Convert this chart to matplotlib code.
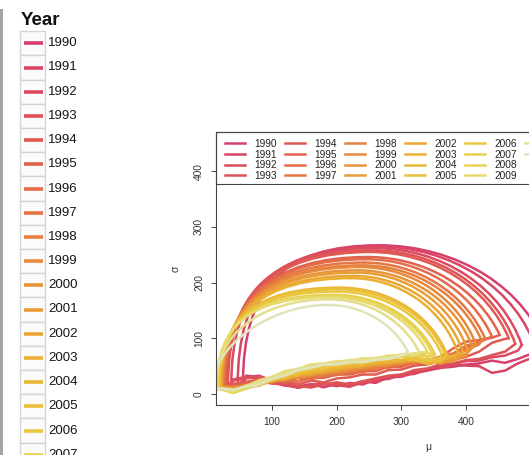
import matplotlib

matplotlib.use("Agg")
import math

import matplotlib.pyplot as plt
from matplotlib.lines import Line2D
from matplotlib.patches import Arc, PathPatch, Rectangle
from matplotlib.path import Path

plt.rcParams["font.family"] = ["Liberation Sans", "DejaVu Sans"]

# ---- data ----------------------------------------------------------------
YEARS = list(range(1990, 2012))
COLORS = [
    "#D6406C", "#D94565", "#DB4B5F", "#DE5258", "#E05A52", "#E2634D",
    "#E46C48", "#E57644", "#E68040", "#E8893C", "#E99339", "#EA9D36",
    "#EAA634", "#EBAF34", "#EBB836", "#EBC03A", "#EAC741", "#E9CE4B",
    "#E8D459", "#E7DA6B", "#E4DE8E", "#E0E4BC",
]

# each year: arc from the left foot up to a peak and down to a right end,
# then a noisy line back along the bottom to the foot
FOOT_MU = [55, 47, 37, 32, 29, 27, 26, 25, 24, 23, 22, 21, 20, 20, 19, 18, 17, 16, 15, 14, 11, 8]
FOOT_SIGMA = [16, 16, 15, 15, 15, 14, 14, 14, 13, 13, 13, 12, 12, 12, 12, 11, 11, 11, 10, 10, 10, 12]
PEAK_MU = [265, 262, 258, 255, 252, 248, 245, 242, 240, 236, 233, 230, 226, 222, 205, 202, 200, 196, 193, 190, 188, 186]
PEAK_SIGMA = [267, 265, 262, 258, 255, 246, 242, 236, 231, 228, 222, 218, 212, 208, 191, 188, 184, 178, 176, 174, 170, 160]
END_MU = [525, 508, 486, 476, 466, 452, 440, 430, 424, 415, 410, 402, 395, 388, 372, 368, 362, 352, 348, 340, 328, 310]
END_SIGMA = [75, 80, 88, 90, 100, 106, 103, 98, 96, 90, 84, 80, 76, 72, 66, 70, 72, 70, 72, 76, 74, 76]
LEFT_FULLNESS = [0.7] * 4 + [0.67] * 10 + [0.7] * 6 + [0.6, 0.5]

GRID_MU = [20, 40, 60, 80, 100, 120, 140, 160, 180, 200, 220, 240, 260,
           280, 300, 320, 340, 360, 380, 400, 420, 440, 460, 480, 500, 520]
N = None
BOTTOM_SIGMA = {
    1990: [N, N, 33, 30, 22, 15, 13, 18, 12, 19, 15, 23, 20, 30, 31, 38, 42, 47, 49, 53, 55, 60, 56, 63, 72, 76],
    1991: [N, N, 30, 33, 24, 19, 16, 12, 18, 14, 20, 17, 26, 27, 35, 36, 44, 47, 52, 51, 50, 38, 42, 55, 64],
    1992: [N, 26, 31, 27, 19, 17, 11, 16, 20, 16, 13, 21, 23, 31, 32, 41, 44, 51, 53, 59, 60, 66, 69, 78],
    1993: [N, 24, 28, 31, 23, 19, 14, 12, 17, 21, 17, 23, 28, 33, 35, 43, 46, 53, 55, 61, 63, 70, 76],
    1994: [N, 18, 22, 26, 20, 23, 17, 24, 21, 28, 30, 35, 35, 43, 44, 51, 53, 59, 61, 67, 76, 92, 99],
    1995: [N, 15, 19, 22, 19, 26, 22, 29, 29, 35, 35, 41, 41, 49, 49, 56, 57, 66, 82, 94, 97, 101],
    1996: [N, 14, 16, 21, 24, 21, 29, 26, 33, 34, 39, 39, 47, 47, 53, 55, 61, 61, 71, 83, 94],
    1997: [N, 12, 16, 18, 23, 26, 23, 31, 32, 37, 39, 45, 45, 51, 53, 59, 61, 67, 73, 87, 93],
    1998: [N, 12, 14, 21, 23, 29, 29, 35, 35, 39, 41, 46, 47, 51, 54, 59, 61, 65, 69, 79, 89],
    1999: [N, 10, 15, 17, 23, 25, 31, 33, 39, 39, 45, 45, 51, 51, 57, 57, 61, 55, 63, 73],
    2000: [N, 11, 16, 21, 23, 29, 31, 36, 37, 43, 44, 49, 51, 56, 57, 61, 57, 56, 59, 71],
    2001: [N, 9, 14, 17, 23, 27, 33, 35, 41, 41, 47, 49, 53, 54, 59, 61, 61, 55, 63, 69],
    2002: [N, 8, 12, 19, 23, 31, 33, 39, 39, 45, 47, 51, 53, 57, 57, 63, 57, 63, 65],
    2003: [N, 8, 13, 15, 25, 27, 35, 37, 43, 45, 49, 51, 56, 57, 61, 61, 61, 63, 69],
    2004: [N, 5, 10, 17, 23, 31, 35, 41, 44, 49, 51, 56, 57, 61, 61, 61, 54, 59],
    2005: [N, 3, 12, 17, 27, 31, 39, 43, 49, 51, 56, 57, 61, 63, 67, 61, 59, 59],
    2006: [N, 2, 10, 21, 27, 35, 39, 47, 49, 55, 55, 61, 61, 66, 67, 67, 61, 65],
    2007: [N, 6, 12, 23, 29, 37, 41, 49, 51, 56, 57, 61, 63, 67, 67, 71, 67],
    2008: [N, 2, 11, 19, 29, 35, 45, 49, 55, 55, 61, 61, 65, 67, 71, 69, 73],
    2009: [N, 5, 14, 25, 31, 41, 45, 53, 55, 59, 59, 64, 64, 69, 69, 73, 73],
    2010: [8, 6, 15, 21, 31, 37, 45, 49, 55, 57, 61, 61, 65, 65, 71, 71],
    2011: [10, 8, 13, 17, 27, 33, 43, 47, 53, 53, 57, 57, 61, 63, 69],
}

X_TICKS = [100, 200, 300, 400]
Y_TICKS = [0, 100, 200, 300, 400]
LEFT_LEGEND_YEARS = YEARS[:18]  # 1990..2007 visible in the cropped side legend

# ---- figure ---------------------------------------------------------------
W, H = 529, 455
fig = plt.figure(figsize=(W / 100, H / 100), dpi=100)

# side legend (ggplot-like), laid out in pixel units
lax = fig.add_axes([0, 0, 1, 1])
lax.set_xlim(0, W)
lax.set_ylim(H, 0)
lax.axis("off")
lax.add_patch(Rectangle((0, 9), 2.5, H, facecolor="#a4a4a4", edgecolor="none"))
lax.text(21, 25, "Year", fontsize=13.5, fontweight="bold", color="#111111", va="baseline")
pitch = 24.2
for i, yr in enumerate(LEFT_LEGEND_YEARS):
    cy = 43.3 + i * pitch
    lax.add_patch(Rectangle((20, cy - pitch / 2), 25, pitch, facecolor="#fbfbfb",
                            edgecolor="#d4d4d4", linewidth=1.0))
    lax.plot([23.5, 42.5], [cy, cy], color=COLORS[i], lw=2.6, solid_capstyle="butt")
    lax.text(48, cy, str(yr), fontsize=9.5, color="#151515", va="center", ha="left")

# main plot: axes runs off the right edge, as in the cropped screenshot
ax = fig.add_axes([216 / W, 50 / H, 424 / W, 273 / H])
ax.set_xlim(13.4, 668.7)
ax.set_ylim(-19.7, 470.4)

LW = 1.8
for i, yr in enumerate(YEARS):
    fm, fs = FOOT_MU[i], FOOT_SIGMA[i]
    pm, ps = PEAK_MU[i], PEAK_SIGMA[i]
    em, es = END_MU[i], END_SIGMA[i]
    k = LEFT_FULLNESS[i]
    c = COLORS[i]

    # bottom line (end -> foot), then the rising left side up to the peak
    verts = [(em, es)]
    pts = [(g, s) for g, s in zip(GRID_MU, BOTTOM_SIGMA[yr]) if s is not None and fm < g < em]
    verts += list(reversed(pts))
    verts += [(fm, fs), (fm, fs + k * (ps - fs)), (pm - k * (pm - fm), ps), (pm, ps)]
    codes = [Path.MOVETO] + [Path.LINETO] * (len(pts) + 1) + [Path.CURVE4] * 3
    ax.add_patch(PathPatch(Path(verts, codes), fill=False, edgecolor=c, linewidth=LW,
                           capstyle="round", joinstyle="round", zorder=2))

    # falling right side: quarter ellipse from the peak through the end point
    b = ps - fs
    a = (em - pm) / math.sqrt(1 - ((es - fs) / b) ** 2)
    t1 = math.degrees(math.atan2(es - fs, em - pm))
    ax.add_patch(Arc((pm, fs), 2 * a, 2 * b, theta1=t1, theta2=90, edgecolor=c,
                     linewidth=LW, capstyle="round", zorder=2))

for side in ("top", "left", "bottom", "right"):
    ax.spines[side].set_color("#444444")
    ax.spines[side].set_linewidth(0.8)
ax.set_xticks(X_TICKS)
ax.set_yticks(Y_TICKS)
ax.tick_params(direction="out", length=3.6, width=0.7, colors="#444444",
               labelsize=7.3, labelcolor="#333333", pad=5)
plt.setp(ax.get_yticklabels(), rotation=90, va="center")
ax.set_xlabel("μ", fontsize=7.5, color="#333333", labelpad=11)
ax.set_ylabel("σ", fontsize=7.5, color="#333333", labelpad=10)

# legend box along the top of the plot region
LEG_BOTTOM = 0.8095
ax.add_patch(Rectangle((0, LEG_BOTTOM), 2, 1 - LEG_BOTTOM, transform=ax.transAxes,
                       fill=False, edgecolor="#444444", linewidth=0.8, clip_on=False))
handles = [Line2D([], [], color=c, lw=LW) for c in COLORS]
labels = [str(y) for y in YEARS]
handles += [Line2D([], [], lw=0), Line2D([], [], lw=0)]
labels += ["", ""]
ax.legend(handles, labels, ncol=6, loc="upper left", bbox_to_anchor=(9 / 424, 1 - 7 / 273),
          frameon=False, borderpad=0, borderaxespad=0, fontsize=7.3,
          handlelength=1.97, handletextpad=0.89, columnspacing=0.83, labelspacing=0.06,
          labelcolor="#222222")

fig.savefig("out.png", dpi=100)
